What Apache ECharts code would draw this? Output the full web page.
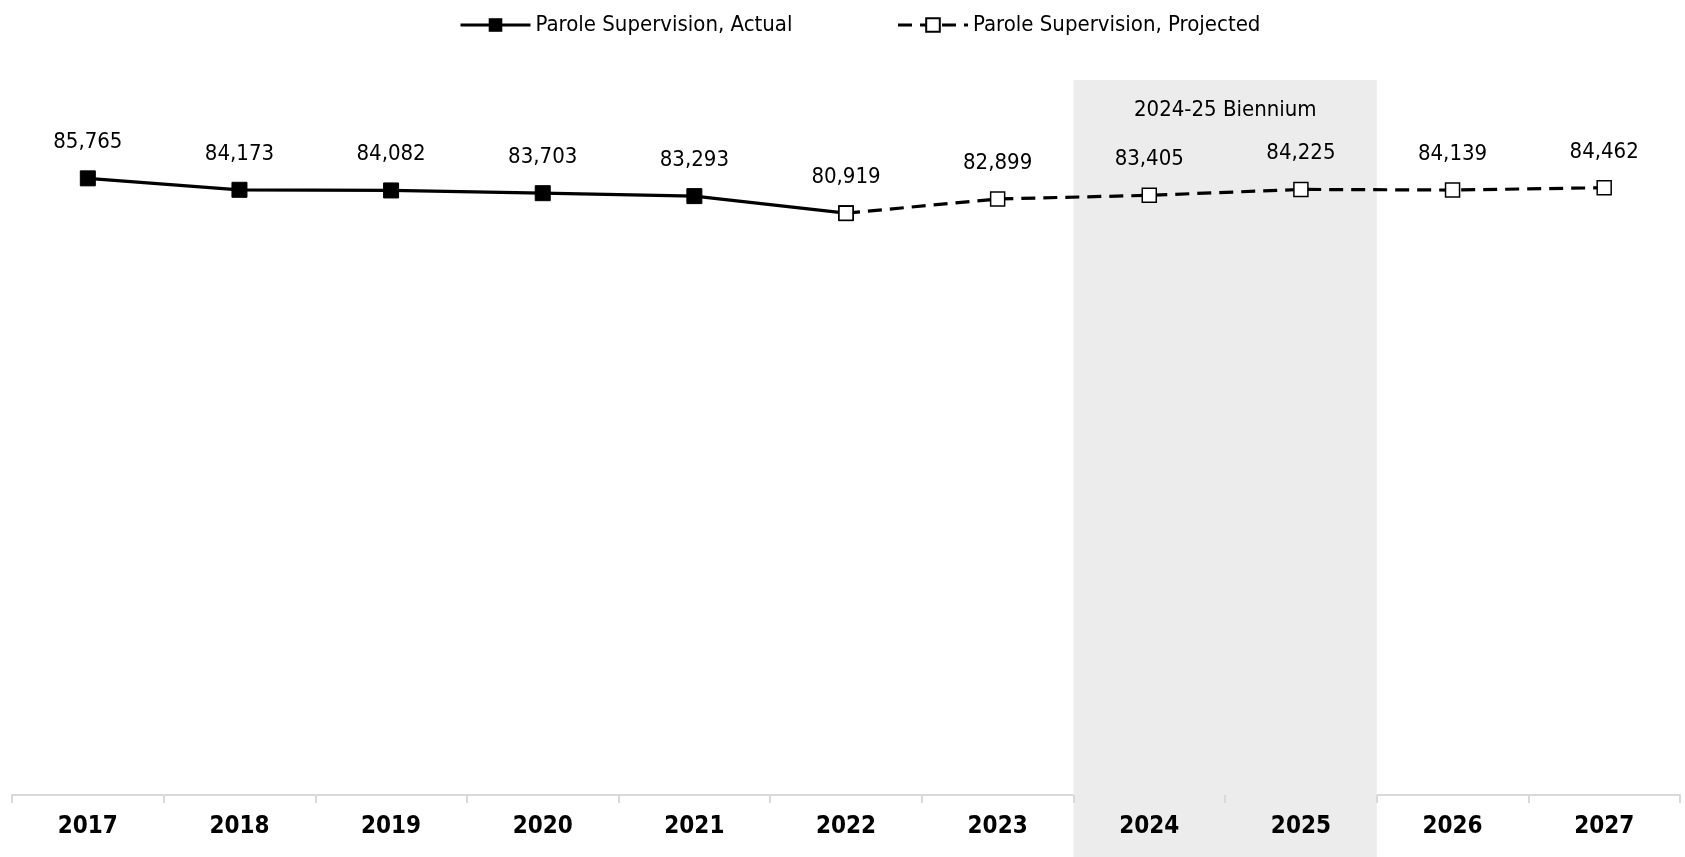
<!DOCTYPE html>
<html>
<head>
<meta charset="utf-8">
<script src="https://cdn.jsdelivr.net/npm/echarts@6/dist/echarts.min.js"></script>
<style>
  html, body { margin: 0; padding: 0; background: #fff; }
  #chart { width: 1685px; height: 857px; }
</style>
</head>
<body>
<div id="chart"></div>
<script>
const years = ['2017', '2018', '2019', '2020', '2021', '2022', '2023', '2024', '2025', '2026', '2027']
const actualData = [85765, 84173, 84082, 83703, 83293, 80919, null, null, null, null, null]
const projectedData = [null, null, null, null, null, 80919, 82899, 83405, 84225, 84139, 84462]
const bandYears = ['2024', '2025']
const bandLabel = '2024-25 Biennium'

const FONT = '"Liberation Sans Narrow", "DejaVu Sans Condensed", "Roboto Condensed", sans-serif'
const bandData = years.map(y => (bandYears.includes(y) ? 1 : null))
const fmt = v => v.toLocaleString('en-US')

const chart = echarts.init(document.getElementById('chart'))
chart.setOption({
    backgroundColor: '#fff',
    animation: false,
    textStyle: { fontFamily: FONT, color: '#000' },
    legend: {
        top: 9,
        left: 454,
        itemWidth: 70,
        itemHeight: 17,
        itemGap: 104,
        lineStyle: { width: 3 },
        textStyle: { fontFamily: FONT, fontSize: 22, color: '#000' },
        data: ['Parole Supervision, Actual', 'Parole Supervision, Projected'],
    },
    grid: [
        { left: 12, right: 5, top: 76, bottom: 62 },
        // shaded biennium band, runs below the axis to the bottom edge
        { left: 12, right: 5, top: 80, bottom: 0 },
    ],
    xAxis: [
        {
            type: 'category',
            gridIndex: 0,
            data: years,
            axisLine: { lineStyle: { color: '#d9d9d9', width: 2 } },
            axisTick: { show: true, length: 8, lineStyle: { color: '#d9d9d9', width: 2 } },
            axisLabel: {
                margin: 20,
                fontFamily: FONT,
                fontSize: 24,
                fontWeight: 'bold',
                color: '#000',
            },
        },
        {
            type: 'category',
            gridIndex: 1,
            data: years,
            show: false,
        },
    ],
    yAxis: [
        { type: 'value', gridIndex: 0, min: 0, max: 100000, show: false },
        { type: 'value', gridIndex: 1, min: 0, max: 1, show: false },
    ],
    series: [
        {
            name: 'band',
            type: 'bar',
            xAxisIndex: 1,
            yAxisIndex: 1,
            data: bandData,
            barWidth: '100%',
            silent: true,
            z: 0,
            itemStyle: { color: '#ececec' },
            label: {
                show: true,
                position: 'insideTop',
                distance: 19,
                offset: [76, 0],
                fontFamily: FONT,
                fontSize: 22,
                color: '#000',
                formatter: p => (p.name === bandYears[0] ? bandLabel : ''),
            },
        },
        {
            name: 'Parole Supervision, Actual',
            type: 'line',
            data: actualData,
            z: 3,
            symbol: 'rect',
            symbolSize: 15,
            showAllSymbol: true,
            lineStyle: { color: '#000', width: 3.2 },
            itemStyle: { color: '#000', borderColor: '#000' },
            label: {
                show: true,
                position: 'top',
                distance: 17,
                fontFamily: FONT,
                fontSize: 22,
                color: '#000',
                formatter: p => (projectedData[p.dataIndex] == null ? fmt(p.value) : ''),
            },
        },
        {
            name: 'Parole Supervision, Projected',
            type: 'line',
            data: projectedData,
            z: 4,
            symbol: 'rect',
            symbolSize: 14,
            showAllSymbol: true,
            lineStyle: { color: '#000', width: 3.2, type: [14, 8] },
            itemStyle: { color: '#fff', borderColor: '#000', borderWidth: 1.5 },
            label: {
                show: true,
                position: 'top',
                distance: 17,
                fontFamily: FONT,
                fontSize: 22,
                color: '#000',
                formatter: p => fmt(p.value),
            },
        },
    ],
})
</script>
</body>
</html>
